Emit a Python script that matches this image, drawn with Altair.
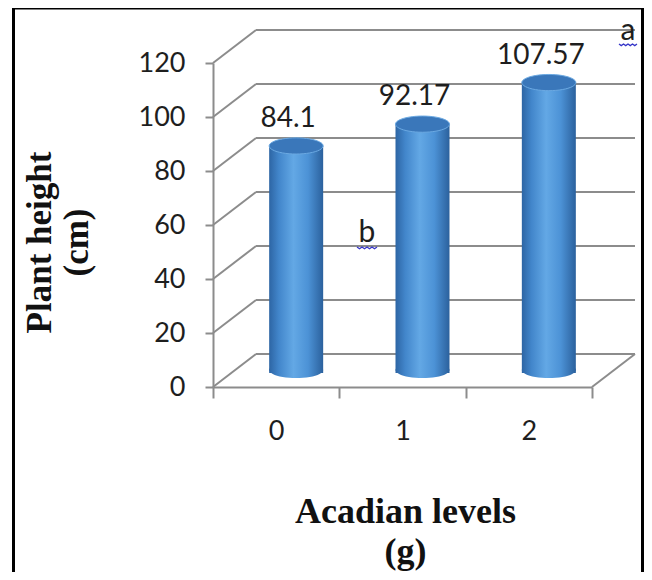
import math
import altair as alt
import pandas as pd

# ---- data ----
levels = ["0", "1", "2"]
heights = [84.1, 92.17, 107.57]
value_labels = ["84.1", "92.17", "107.57"]
y_ticks = [0, 20, 40, 60, 80, 100, 120]
letter_a = ["a"]
letter_b = ["b"]

# ---- layout / style constants ----
W, H = 379, 324          # front plane of the plot
DX, DY = 43, -33         # depth of the back wall (pixels)
BX = 20                  # cylinder depth shift
BY_TOP, BY_BOT = -14, -17
BAR_W = 54
GRID = "#8c8c8c"
TXT = "#1e1e1e"
SANS = "Lato"
SERIF = "Liberation Serif"

bars = pd.DataFrame({"level": levels, "height": heights, "label": value_labels})
grid = pd.DataFrame({"height": y_ticks})
one = pd.DataFrame({"k": [0]})


def ellipse_path(ry, n=48):
    pts = []
    for i in range(n):
        t = 2 * math.pi * i / n
        pts.append(f"{math.cos(t):.4f},{ry * math.sin(t):.4f}")
    return "M" + "L".join(pts) + "Z"


ELL = ellipse_path(0.3)
ZIG = "M-1,0L-0.75,0.18L-0.5,0L-0.25,0.18L0,0L0.25,0.18L0.5,0L0.75,0.18L1,0"

grad = alt.Gradient(
    gradient="linear", x1=0, x2=1, y1=0, y2=0,
    stops=[
        alt.GradientStop(color="#2d65a4", offset=0),
        alt.GradientStop(color="#4286cb", offset=0.18),
        alt.GradientStop(color="#63a8e5", offset=0.45),
        alt.GradientStop(color="#4c92d6", offset=0.72),
        alt.GradientStop(color="#2b619d", offset=1),
    ],
)

x_enc = alt.X(
    "level:N", sort=levels,
    scale=alt.Scale(paddingInner=0, paddingOuter=0),
    axis=alt.Axis(
        tickBand="extent", labelAngle=0, grid=False,
        domainColor=GRID, domainWidth=2, tickColor=GRID, tickWidth=2, tickSize=11,
        labelFont=SANS, labelFontSize=27, labelColor=TXT, labelPadding=20,
        title=["Acadian levels", "(g)"], titleFont=SERIF, titleFontWeight="bold",
        titleFontSize=36, titleColor="#111", titleX=192, titleY=124,
        titleAlign="center", titleBaseline="middle", titleLineHeight=40,
    ),
)
y_scale = alt.Scale(domain=[0, 120], nice=False)
y_enc = alt.Y(
    "height:Q", scale=y_scale,
    axis=alt.Axis(
        values=y_ticks, grid=False,
        domainColor=GRID, domainWidth=2, tickColor=GRID, tickWidth=2, tickSize=8,
        labelFont=SANS, labelFontSize=27, labelColor=TXT, labelPadding=20,
        title=["Plant height", "(cm)"], titleFont=SERIF, titleFontWeight="bold",
        titleFontSize=35, titleColor="#111", titleAngle=270, titleX=-174, titleY=179,
        titleAlign="center", titleBaseline="middle", titleLineHeight=37,
    ),
)
y_plain = alt.Y("height:Q", scale=y_scale)

# page border
border = alt.Chart(one).mark_rect(fill="white", fillOpacity=0, stroke="black", strokeWidth=3).encode(
    x=alt.value(-199.5), x2=alt.value(429.5), y=alt.value(-55), y2=alt.value(560)
)

# back wall horizontal gridlines
back = alt.Chart(grid).mark_rule(color=GRID, strokeWidth=2, xOffset=DX, x2Offset=DX, yOffset=DY).encode(
    x=alt.value(0), x2=alt.value("width"), y=y_plain
)
# left side wall diagonals
side = alt.Chart(grid).mark_rule(color=GRID, strokeWidth=2, x2Offset=DX, y2Offset=DY).encode(
    x=alt.value(0), x2=alt.value(0), y=y_plain, y2="height:Q"
)
# floor right edge
floor = alt.Chart(one).mark_rule(color=GRID, strokeWidth=2, x2Offset=DX, y2Offset=DY).encode(
    x=alt.value("width"), x2=alt.value("width"), y=alt.value("height"), y2=alt.value("height")
)

bottoms = alt.Chart(bars).transform_calculate(height="0").mark_point(
    shape=ELL, size=BAR_W * BAR_W, filled=True, fill=grad, opacity=1, strokeWidth=0,
    xOffset=BX, yOffset=BY_BOT,
).encode(x=x_enc, y=y_plain)

cyl = alt.Chart(bars).mark_bar(
    width=BAR_W, fill=grad, xOffset=BX, x2Offset=BX, yOffset=BY_TOP, y2Offset=BY_BOT,
).encode(x=x_enc, y=y_enc)

tops = alt.Chart(bars).mark_point(
    shape=ELL, size=BAR_W * BAR_W, filled=True, fill="#3a77ba", stroke="#6ba9e2",
    strokeWidth=1, opacity=1, xOffset=BX, yOffset=BY_TOP,
).encode(x=x_enc, y=y_plain)

labels = alt.Chart(bars).mark_text(
    font=SANS, fontSize=28, color=TXT, baseline="alphabetic", align="center", dx=BX - 8, dy=-33,
).encode(x=x_enc, y=y_plain, text="label:N")

ann_a = alt.Chart(pd.DataFrame({"t": letter_a})).mark_text(
    font=SANS, fontSize=30, color=TXT, baseline="alphabetic", align="center"
).encode(x=alt.value(415), y=alt.value(-23), text="t:N")
ann_b = alt.Chart(pd.DataFrame({"t": letter_b})).mark_text(
    font=SANS, fontSize=30, color=TXT, baseline="alphabetic", align="center"
).encode(x=alt.value(154), y=alt.value(179), text="t:N")
sq_a = alt.Chart(pd.DataFrame({"t": letter_a})).mark_point(
    shape=ZIG, size=324, filled=False, stroke="#3535c8", strokeWidth=1.3, opacity=1
).encode(x=alt.value(415), y=alt.value(-19))
sq_b = alt.Chart(pd.DataFrame({"t": letter_b})).mark_point(
    shape=ZIG, size=400, filled=False, stroke="#3535c8", strokeWidth=1.3, opacity=1
).encode(x=alt.value(154), y=alt.value(184))

chart = alt.layer(
    border, back, side, floor, bottoms, cyl, tops, labels, ann_a, ann_b, sq_a, sq_b
).properties(
    width=W, height=H,
    autosize=alt.AutoSizeParams(type="none"),
    padding={"left": 205, "top": 55, "right": 52, "bottom": 185},
    background="white",
).configure_view(stroke=None)

chart.save("out.html", embed_options={"renderer": "svg", "actions": False})
